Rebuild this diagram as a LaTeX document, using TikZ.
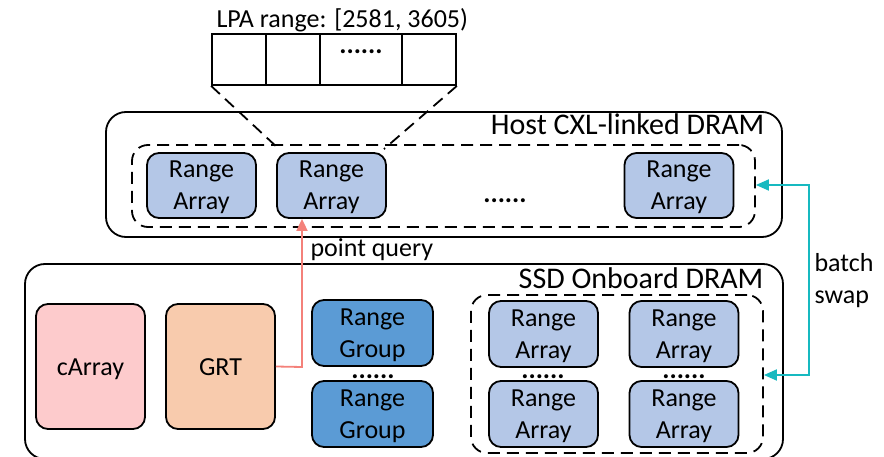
\documentclass[tikz,border=0pt]{standalone}
\usepackage{fontspec}
\setmainfont{Carlito}
\usetikzlibrary{arrows.meta}
\definecolor{ralight}{HTML}{B4C7E7}
\definecolor{rgblue}{HTML}{5B9BD5}
\definecolor{carpink}{HTML}{FDCBCC}
\definecolor{grtpeach}{HTML}{F8CBAD}
\definecolor{queryred}{HTML}{F4817A}
\definecolor{swapteal}{HTML}{17B9C0}
% struts that fix where box labels sit
\newcommand\topstrut{\rule{0pt}{23pt}}
\newcommand\botstrut{\rule[-6pt]{0pt}{6pt}}
\newcommand\boxtext[2]{\topstrut#1\\#2\botstrut}
\newcommand\onetext[1]{\topstrut#1\botstrut}
\tikzset{
  txt/.style={font=\fontsize{26}{32}\selectfont},
  big/.style={font=\fontsize{30}{35}\selectfont},
  dots/.style={font=\fontsize{27}{32}\selectfont\bfseries, inner sep=0pt, anchor=base},
  frame/.style={draw, line width=1.8pt, rounded corners=20pt},
  dashframe/.style={draw, line width=1.8pt, dash pattern=on 12pt off 7pt, rounded corners=16pt},
  blk/.style={draw, line width=1.8pt, rounded corners=12pt, align=center, inner sep=0pt, txt},
  rarr/.style={blk, fill=ralight, minimum width=109pt, minimum height=65pt},
  rgrp/.style={blk, fill=rgblue, minimum width=121pt, minimum height=66pt},
  cell/.style={draw, line width=1.8pt, minimum height=51pt, inner sep=0pt},
  link/.style={line width=1.8pt, dash pattern=on 12pt off 7pt},
}
\begin{document}
\begin{tikzpicture}[x=1pt,y=-1pt]
\useasboundingbox (0,0) rectangle (884,457);

% LPA range array
\node[txt, anchor=base west] (lpa) at (213,28) {LPA range: [2581, 3605)};
\node[cell, minimum width=54pt] (c1) at (239,59.5) {};
\node[cell, minimum width=54pt] (c2) at (293,59.5) {};
\node[cell, minimum width=82pt] (c3) at (361,59.5) {};
\node[cell, minimum width=54pt] (c4) at (429,59.5) {};
\node[dots] (cdots) at (361,54) {......};

% Host CXL-linked DRAM
\node[frame, minimum width=676pt, minimum height=125pt] (host) at (444,174.5) {};
\node[big, anchor=base east] (hostlbl) at (768,135) {Host CXL-linked DRAM};
\node[dashframe, minimum width=623pt, minimum height=82pt] (hostin) at (443.5,186) {};
\node[rarr] (ha1) at (201.5,185.5) {\boxtext{Range}{Array}};
\node[rarr] (ha2) at (331.5,185.5) {\boxtext{Range}{Array}};
\node[rarr] (ha3) at (679,185.5) {\boxtext{Range}{Array}};
\node[dots] (hdots) at (505,203) {......};

% zoom lines from the array to one Range Array
\draw[link] (c1.south west) -- ([xshift=3pt,yshift=3pt]ha2.north west);
\draw[link] (c4.south east) -- ([xshift=-3pt,yshift=3pt]ha2.north east);

% SSD Onboard DRAM
\node[frame, minimum width=758pt, minimum height=195pt] (ssd) at (404,361.5) {};
\node[big, anchor=base east] (ssdlbl) at (767,288) {SSD Onboard DRAM};
\node[blk, fill=carpink, minimum width=109pt, minimum height=125pt] (carr) at (90.5,366.5) {\onetext{cArray}};
\node[blk, fill=grtpeach, minimum width=109pt, minimum height=125pt] (grt) at (220.5,366.5) {\onetext{GRT}};
\node[rgrp] (rg1) at (372.5,333) {\boxtext{Range}{Group}};
\node[rgrp] (rg2) at (372.5,414) {\boxtext{Range}{Group}};
\node[dots] (gdots) at (373,378) {......};

\node[dashframe, minimum width=292pt, minimum height=158pt] (ssdin) at (617,374) {};
\node[rarr, minimum height=66pt] (sa11) at (543.5,334) {\boxtext{Range}{Array}};
\node[rarr, minimum height=66pt] (sa12) at (684,334) {\boxtext{Range}{Array}};
\node[rarr, minimum height=66pt] (sa21) at (543.5,414) {\boxtext{Range}{Array}};
\node[rarr, minimum height=66pt] (sa22) at (684,414) {\boxtext{Range}{Array}};
\node[dots] (sdots1) at (543,378) {......};
\node[dots] (sdots2) at (684,378) {......};

% point query
\coordinate (qbend) at (302,367);
\draw[queryred, line width=1.8pt, -{Triangle[length=12pt,width=11pt]}]
  (grt.east) -- (qbend) -- (qbend |- ha2.south);
\node[txt, anchor=base west] (qlbl) at (307,257) {point query};

% batch swap
\coordinate (sw1) at (809,185);
\coordinate (sw2) at (809,375);
\draw[swapteal, line width=1.8pt, {Triangle[length=13pt,width=11pt]}-{Triangle[length=13pt,width=11pt]}]
  (sw1 -| hostin.east) -- (sw1) -- (sw2) -- (sw2 -| ssdin.east);
\node[txt, anchor=base west] (blbl1) at (811,272) {batch};
\node[txt, anchor=base west] (blbl2) at (811,303) {swap};
\end{tikzpicture}
\end{document}
